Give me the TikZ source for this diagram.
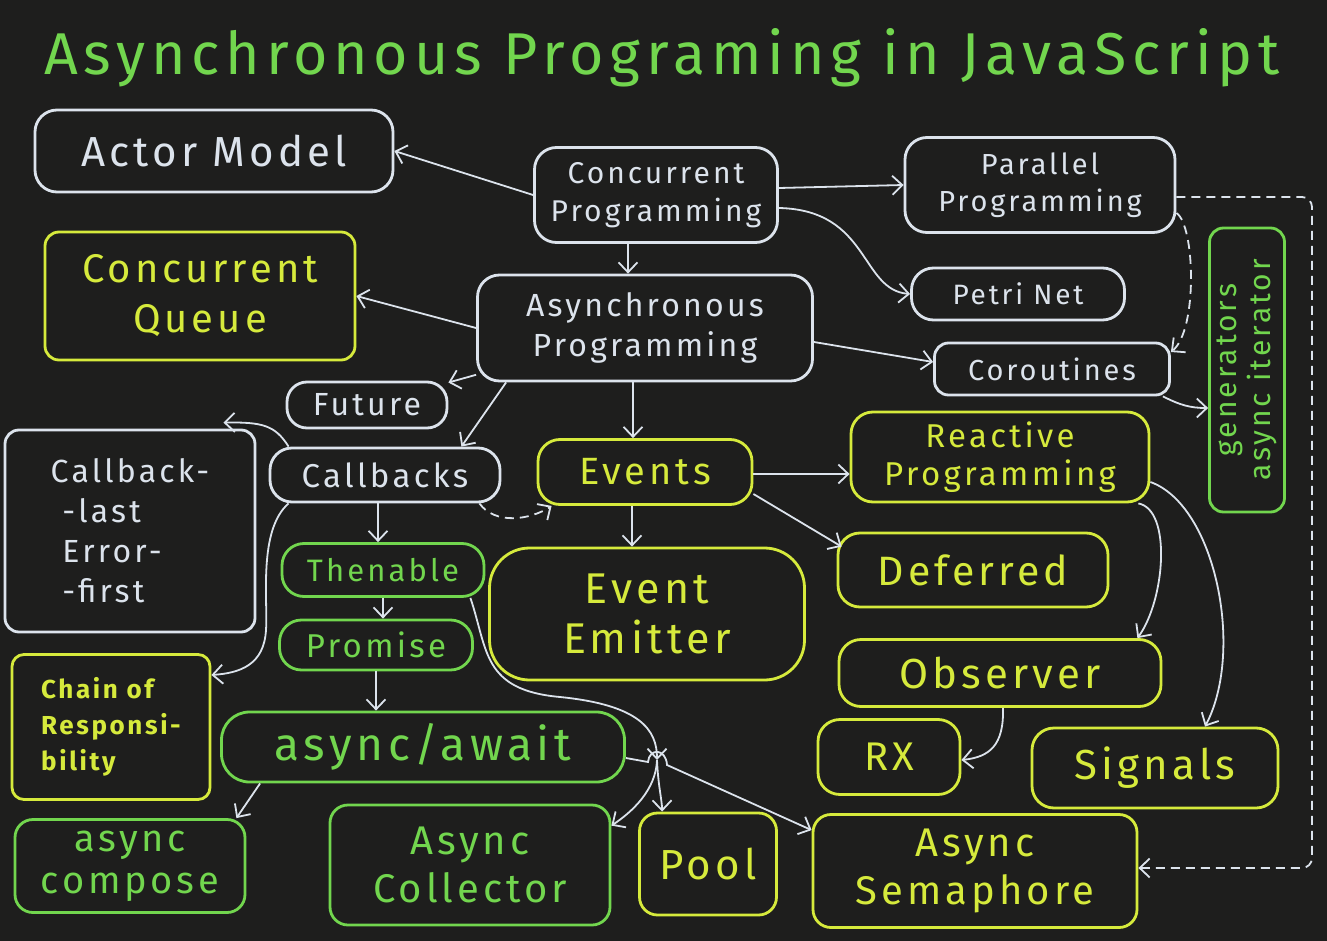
\documentclass[tikz,border=0pt]{standalone}
\usepackage{fontspec}
\setmainfont[LetterSpace=10]{Fira Sans}
\usetikzlibrary{arrows.meta}
\definecolor{Board}{HTML}{1E1E1D}
\definecolor{Chalk}{HTML}{DCE3EC}
\definecolor{Lime} {HTML}{D6EA3C}
\definecolor{Leaf} {HTML}{72D64E}
\newcommand{\hw}[2]{\fontsize{#1}{#2}\selectfont}
\tikzset{
  chalk arrow/.style={-{Straight Barb[length=10pt,width=19pt]}, line width=1.8pt, draw=Chalk},
  dash arrow/.style={chalk arrow, dash pattern=on 9pt off 6pt},
}

\begin{document}
\begin{tikzpicture}[x=1pt, y=-1pt,
    wbox/.style={draw=Chalk, text=Chalk, line width=2.8pt, rounded corners=22pt,
                 align=center, inner sep=0pt},
    ybox/.style={wbox, draw=Lime, text=Lime},
    gbox/.style={wbox, draw=Leaf, text=Leaf}]
  \fill[Board] (0,0) rectangle (1327,941);
  \useasboundingbox (0,0) rectangle (1327,941);
  % Title
  \node[text=Leaf, font=\hw{59}{64}] (title) at (662,58) {Asynchronous Programing in JavaScript};
  % Nodes
  \node[wbox, minimum width=358pt, minimum height=82pt, font=\hw{42}{48}] (actor) at (214,151) {Actor Model};
  \node[wbox, minimum width=243pt, minimum height=95pt, font=\hw{30}{38}] (conc) at (656,195) {Concurrent\\Programming};
  \node[wbox, minimum width=270pt, minimum height=95pt, font=\hw{29}{37}] (para) at (1040,185) {Parallel\\Programming};
  \node[wbox, minimum width=213pt, minimum height=52pt, font=\hw{28}{32}] (petri) at (1018,294) {Petri Net};
  \node[wbox, minimum width=335pt, minimum height=106pt, font=\hw{32}{40}] (async) at (645,328) {Asynchronous\\Programming};
  \node[wbox, minimum width=235pt, minimum height=52pt, rounded corners=14pt, font=\hw{29}{34}] (corout) at (1052,369) {Coroutines};
  \node[wbox, minimum width=160pt, minimum height=46pt, rounded corners=20pt, font=\hw{32}{36}] (future) at (367,405) {Future};
  \node[wbox, minimum width=230pt, minimum height=54pt, font=\hw{33}{38}] (callbacks) at (385,475) {Callbacks};
  \node[wbox, minimum width=250pt, minimum height=202pt, rounded corners=14pt, align=left, font=\hw{32}{40}] (cbl) at (130,531) {Callback-\\\ -last\\\ Error-\\\ -first};
  \node[ybox, minimum width=310pt, minimum height=128pt, rounded corners=14pt, font=\hw{40}{50}] (cqueue) at (200,296) {Concurrent\\Queue};
  \node[ybox, minimum width=214pt, minimum height=65pt, font=\hw{38}{44}] (events) at (645,472) {Events};
  \node[ybox, minimum width=298pt, minimum height=90pt, font=\hw{33}{38}] (reactive) at (1000,457) {Reactive\\Programming};
  \node[ybox, minimum width=315pt, minimum height=132pt, rounded corners=40pt, font=\hw{43}{50}] (emitter) at (647,614) {Event\\Emitter};
  \node[ybox, minimum width=270pt, minimum height=74pt, font=\hw{41}{46}] (deferred) at (973,570) {Deferred};
  \node[ybox, minimum width=322pt, minimum height=67pt, font=\hw{42}{46}] (observer) at (1000,673) {Observer};
  \node[ybox, minimum width=142pt, minimum height=75pt, font=\hw{40}{44}] (rx) at (889,757) {RX};
  \node[ybox, minimum width=246pt, minimum height=80pt, font=\hw{42}{46}] (signals) at (1155,768) {Signals};
  \node[ybox, minimum width=198pt, minimum height=145pt, rounded corners=12pt, align=left, font=\bfseries\hw{26}{36}] (chain) at (111,727) {Chain of\\Responsi-\\bility};
  \node[ybox, minimum width=137pt, minimum height=102pt, rounded corners=18pt, font=\hw{42}{46}] (pool) at (708,864) {Pool};
  \node[ybox, minimum width=324pt, minimum height=113pt, rounded corners=18pt, font=\hw{40}{48}] (semaphore) at (975,871) {Async\\Semaphore};
  \node[gbox, minimum width=202pt, minimum height=53pt, font=\hw{31}{36}] (thenable) at (383,570) {Thenable};
  \node[gbox, minimum width=193pt, minimum height=50pt, font=\hw{33}{36}] (promise) at (376,645) {Promise};
  \node[gbox, minimum width=403pt, minimum height=70pt, rounded corners=28pt, font=\hw{46}{50}] (asyncawait) at (423,747) {async/await};
  \node[gbox, minimum width=230pt, minimum height=93pt, rounded corners=18pt, font=\hw{38}{42}] (compose) at (130,866) {async\\compose};
  \node[gbox, minimum width=280pt, minimum height=120pt, rounded corners=18pt, font=\hw{40}{48}] (collector) at (470,865) {Async\\Collector};
  \node[gbox, minimum width=75pt, minimum height=284pt, rounded corners=14pt] (gen) at (1247,370)
    {\rotatebox{90}{\hw{30}{34}\begin{tabular}{@{}c@{}}generators\\async iterator\end{tabular}}};
  \coordinate (fork) at (657,760);
  % Arrows
  \draw[chalk arrow] (conc.west) -- (actor.east);
  \draw[chalk arrow] ([yshift=7pt]conc.east) -- ([yshift=0pt]para.west);
  \draw[chalk arrow] ([yshift=-13pt]conc.east) .. controls (870,210) and (860,290) .. (petri.west);
  \draw[chalk arrow] ([xshift=-28pt]conc.south) -- ([xshift=-17pt]async.north);
  \draw[chalk arrow] (async.west) -- (cqueue.east);
  \draw[chalk arrow] ([yshift=-14pt]async.east) -- ([yshift=7pt]corout.west);
  \draw[chalk arrow] (async) -- (future);
  \draw[chalk arrow] ([xshift=30pt]async.south west) -- ([xshift=-40pt]callbacks.north east);
  \draw[chalk arrow] ([xshift=-12pt]async.south) -- ([xshift=-12pt]events.north);
  \draw[dash arrow] ([yshift=-28pt]para.east) .. controls (1195,225) and (1198,330) .. ([yshift=17pt]corout.east);
  \draw[dash arrow, rounded corners=10pt] ([yshift=-12pt]para.east) -| (1312,868) -- ([yshift=3pt]semaphore.east);
  \draw[chalk arrow] ([xshift=-8pt]corout.south east) .. controls (1180,405) and (1190,408) .. ([yshift=-38pt]gen.west);
  \draw[chalk arrow] ([xshift=20pt]callbacks.north west) .. controls (275,425) and (262,422) .. ([xshift=-33pt, yshift=6pt]cbl.north east);
  \draw[chalk arrow] ([xshift=20pt]callbacks.south west) .. controls (258,530) and (268,600) .. (266,630)
    .. controls (264,665) and (240,673) .. ([yshift=52pt]chain.east);
  \draw[chalk arrow] ([xshift=-7pt]callbacks.south) -- ([xshift=-5pt]thenable.north);
  \draw[dash arrow] ([xshift=-22pt]callbacks.south east) .. controls (495,525) and (530,520) .. ([xshift=15pt]events.south west);
  \draw[chalk arrow] (thenable.south) -- (thenable.south |- promise.north);
  \draw[chalk arrow] (promise.south) -- (promise.south |- asyncawait.north);
  \draw[chalk arrow] ([xshift=-15pt]thenable.south east) .. controls (488,650) and (482,690) .. (560,697)
    .. controls (640,705) and (657,730) .. (fork);
  \draw[chalk arrow] (fork) .. controls (656,790) and (632,812) .. ([yshift=-22pt]collector.north east);
  \draw[chalk arrow] (fork) .. controls (658,785) and (662,800) .. ([xshift=24pt]pool.north west);
  \draw[chalk arrow] ([yshift=-11pt]asyncawait.east) -- (648,762) .. controls (649,748) and (666,748) .. (667,765)
    -- ([yshift=-17pt]semaphore.north west);
  \draw[chalk arrow] ([xshift=40pt]asyncawait.south west) -- ([xshift=-10pt]compose.north east);
  \draw[chalk arrow] ([xshift=-13pt]events.south) -- ([xshift=-15pt]emitter.north);
  \draw[chalk arrow] ([yshift=-2pt]events.east) -- ([yshift=-2pt]events.east -| reactive.west);
  \draw[chalk arrow] ([yshift=-22pt]events.east) -- ([xshift=5pt, yshift=-15pt]deferred.north west);
  \draw[chalk arrow] ([xshift=-12pt]reactive.south east) .. controls (1172,510) and (1165,600) .. ([xshift=-25pt]observer.north east);
  \draw[chalk arrow] ([yshift=-25pt]reactive.east) .. controls (1215,505) and (1245,650) .. ([xshift=50pt]signals.north);
  \draw[chalk arrow] ([xshift=3pt]observer.south) .. controls (1004,745) and (990,757) .. ([yshift=-3pt]rx.east);
\end{tikzpicture}
\end{document}
